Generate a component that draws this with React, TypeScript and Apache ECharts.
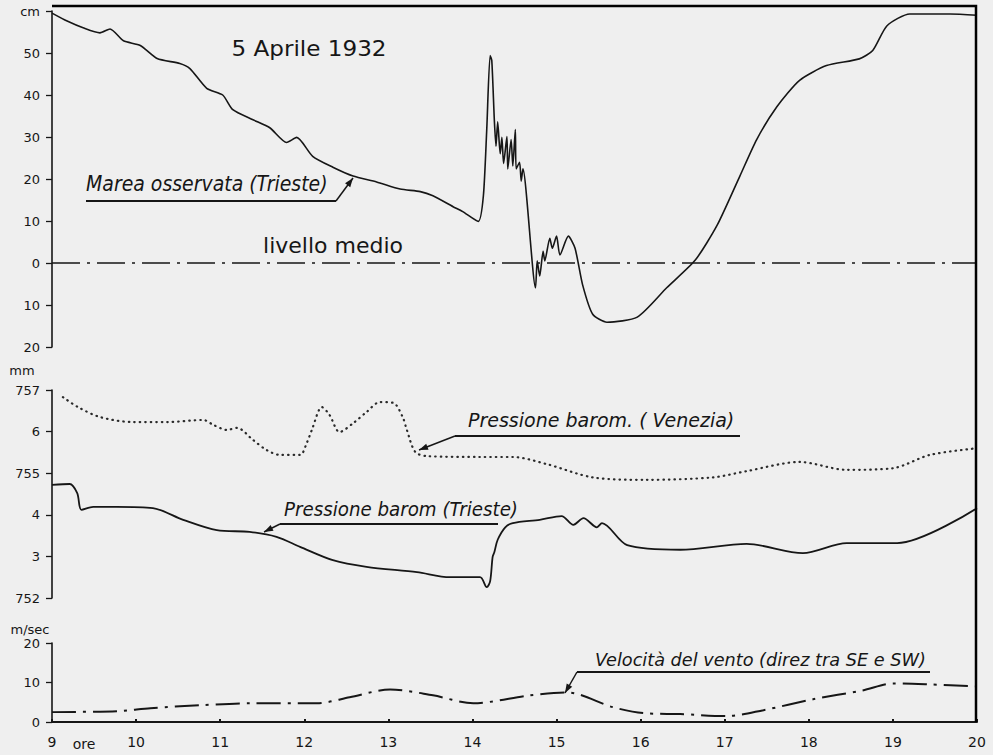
import React, { useEffect, useRef } from "react";
import * as echarts from "echarts";

// ---- data ----
const HOURS = [9, 10, 11, 12, 13, 14, 15, 16, 17, 18, 19, 20];

const TIDE_T = [9.0, 9.18, 9.37, 9.57, 9.69, 9.85, 10.05, 10.25, 10.52, 10.64, 10.84, 11.03, 11.15, 11.39, 11.59, 11.79, 11.91, 12.1, 12.34, 12.58, 12.86, 13.14, 13.38, 13.53, 13.77, 13.88, 14.07, 14.13, 14.17, 14.21, 14.23, 14.26, 14.28, 14.3, 14.33, 14.35, 14.37, 14.41, 14.42, 14.46, 14.48, 14.51, 14.52, 14.56, 14.58, 14.6, 14.75, 14.77, 14.8, 14.84, 14.86, 14.92, 14.95, 15.0, 15.04, 15.14, 15.22, 15.31, 15.43, 15.6, 15.96, 16.31, 16.65, 16.91, 17.18, 17.38, 17.62, 17.89, 18.21, 18.6, 18.76, 18.93, 19.2, 19.68, 20.0];
const TIDE_CM = [59.5, 57.6, 56.0, 54.8, 55.7, 52.9, 51.8, 48.7, 47.5, 46.3, 41.6, 40.0, 36.5, 34.1, 32.2, 28.7, 29.9, 25.4, 22.8, 20.7, 19.3, 17.6, 17.0, 16.0, 13.4, 12.3, 9.9, 16.0, 31.8, 49.4, 48.2, 34.1, 27.8, 33.6, 26.0, 29.9, 23.7, 30.1, 22.4, 29.4, 23.1, 31.8, 22.4, 24.0, 19.5, 22.4, -5.9, 0.5, -3.1, 2.8, 0.5, 5.9, 3.5, 6.4, 1.9, 6.4, 3.5, -5.2, -12.2, -14.1, -12.9, -5.9, 0.7, 9.0, 20.7, 29.4, 37.2, 43.5, 47.0, 48.6, 50.6, 56.5, 59.3, 59.3, 59.0];
const MEAN_LEVEL = [[9, 0], [20, 0]];

const VEN_T = [9.13, 9.3, 9.57, 9.96, 10.37, 10.8, 10.92, 11.08, 11.2, 11.39, 11.55, 11.71, 11.95, 12.03, 12.09, 12.21, 12.3, 12.42, 12.58, 12.74, 12.9, 13.06, 13.17, 13.22, 13.32, 13.46, 14.09, 14.48, 14.88, 15.43, 16.07, 16.86, 17.26, 17.89, 18.45, 19.0, 19.44, 20.0];
const VEN_MM = [756.83, 756.6, 756.35, 756.23, 756.23, 756.28, 756.16, 756.04, 756.09, 755.8, 755.56, 755.44, 755.44, 755.73, 756.04, 756.59, 756.4, 755.99, 756.2, 756.47, 756.71, 756.69, 756.35, 756.04, 755.51, 755.41, 755.39, 755.39, 755.22, 754.9, 754.84, 754.9, 755.05, 755.27, 755.08, 755.12, 755.44, 755.6];

const TRI_T = [9.0, 9.21, 9.3, 9.35, 9.49, 9.77, 10.2, 10.56, 10.96, 11.35, 11.67, 11.95, 12.34, 12.74, 13.34, 13.73, 14.09, 14.17, 14.21, 14.24, 14.26, 14.3, 14.39, 14.48, 14.8, 15.06, 15.2, 15.32, 15.48, 15.54, 15.84, 16.47, 17.26, 17.93, 18.45, 19.05, 20.0];
const TRI_MM = [754.72, 754.74, 754.52, 754.12, 754.19, 754.19, 754.16, 753.88, 753.63, 753.59, 753.47, 753.23, 752.91, 752.75, 752.62, 752.5, 752.5, 752.26, 752.4, 752.99, 753.1, 753.4, 753.7, 753.8, 753.88, 753.97, 753.76, 753.92, 753.7, 753.8, 753.27, 753.16, 753.3, 753.08, 753.32, 753.32, 754.16];

const WIND_T = [9.0, 9.77, 10.17, 10.76, 11.35, 12.15, 12.54, 13.02, 13.53, 14.01, 14.68, 15.12, 15.67, 16.03, 16.47, 17.03, 17.46, 18.05, 18.64, 19.0, 19.44, 20.0];
const WIND_MS = [2.5, 2.75, 3.5, 4.25, 4.75, 4.75, 6.25, 8.25, 6.75, 4.75, 6.75, 7.5, 3.75, 2.25, 2.0, 1.5, 3.0, 5.75, 8.0, 9.75, 9.5, 9.0];

const PRESS_LABELS: Record<number, string> = { 757: "757", 756: "6", 755: "755", 754: "4", 753: "3", 752: "752" };

const zip = (a: number[], b: number[]) => a.map((t, i) => [t, b[i]]);

const INK = "#161616";
const BG = "#efefef";

function arrow(x1: number, y1: number, x2: number, y2: number) {
  const dx = x2 - x1, dy = y2 - y1;
  const L = Math.hypot(dx, dy);
  const ux = dx / L, uy = dy / L;
  const px = -uy, py = ux;
  const bx = x2 - ux * 9, by = y2 - uy * 9;
  return [
    { type: "line", shape: { x1, y1, x2, y2 }, style: { stroke: INK, lineWidth: 1.5 } },
    {
      type: "polygon",
      shape: { points: [[x2, y2], [bx + px * 3.2, by + py * 3.2], [bx - px * 3.2, by - py * 3.2]] },
      style: { fill: INK },
    },
  ];
}

function txt(x: number, y: number, text: string, font: string, align = "left", scaleX = 1) {
  return {
    type: "text",
    x, y, scaleX,
    style: { text, font, fill: INK, textAlign: align, textVerticalAlign: "middle" },
  };
}

export default function App() {
  const ref = useRef<HTMLDivElement>(null);
  useEffect(() => {
    if (!ref.current) return;
    const chart = echarts.init(ref.current, null, { renderer: "svg" });
    const xBase = { type: "value", min: 9, max: 20, interval: 1, splitLine: { show: false } };
    const yLabel = { color: INK, fontSize: 13, fontFamily: "DejaVu Sans", margin: 12 };
    const yTick = { show: true, length: 6, lineStyle: { color: INK, width: 1.3 } };
    const yLine = { show: true, onZero: false, lineStyle: { color: INK, width: 1.6 } };
    const italic = "italic 19px 'DejaVu Sans'";
    chart.setOption({
      animation: false,
      backgroundColor: BG,
      grid: [
        { left: 52, top: 11, width: 925, height: 336 },
        { left: 52, top: 390, width: 925, height: 208 },
        { left: 52, top: 643, width: 925, height: 79 },
      ],
      xAxis: [
        { ...xBase, gridIndex: 0, show: false },
        { ...xBase, gridIndex: 1, show: false },
        {
          ...xBase, gridIndex: 2, position: "bottom",
          axisLine: { show: true, onZero: false, lineStyle: { color: INK, width: 2 } },
          axisTick: { show: true, inside: true, length: 3, lineStyle: { color: INK, width: 2 } },
          axisLabel: { color: INK, fontSize: 14, fontFamily: "DejaVu Sans", margin: 13, formatter: (v: number) => (HOURS.includes(v) ? String(v) : "") },
        },
      ],
      yAxis: [
        {
          type: "value", gridIndex: 0, min: -20, max: 60, interval: 10, splitLine: { show: false },
          axisLine: yLine, axisTick: yTick,
          axisLabel: { ...yLabel, formatter: (v: number) => (v === 60 ? "cm" : String(Math.abs(v))) },
        },
        {
          type: "value", gridIndex: 1, min: 752, max: 757, interval: 1, splitLine: { show: false },
          axisLine: yLine, axisTick: yTick,
          axisLabel: { ...yLabel, formatter: (v: number) => PRESS_LABELS[v] ?? "" },
        },
        {
          type: "value", gridIndex: 2, min: 0, max: 20, interval: 10, splitLine: { show: false },
          axisLine: yLine, axisTick: yTick,
          axisLabel: { ...yLabel },
        },
      ],
      series: [
        {
          name: "livello medio", type: "line", xAxisIndex: 0, yAxisIndex: 0,
          data: MEAN_LEVEL, showSymbol: false, silent: true,
          lineStyle: { color: INK, width: 1.6, type: [28, 7, 3, 7] },
        },
        {
          name: "Marea osservata (Trieste)", type: "line", xAxisIndex: 0, yAxisIndex: 0,
          data: zip(TIDE_T, TIDE_CM), showSymbol: false, smooth: 0.22,
          lineStyle: { color: INK, width: 1.6 },
        },
        {
          name: "Pressione barom. (Venezia)", type: "line", xAxisIndex: 1, yAxisIndex: 1,
          data: zip(VEN_T, VEN_MM), showSymbol: false, smooth: 0.3,
          lineStyle: { color: "#2a2a2a", width: 2.2, type: [0.5, 5], cap: "round" },
        },
        {
          name: "Pressione barom (Trieste)", type: "line", xAxisIndex: 1, yAxisIndex: 1,
          data: zip(TRI_T, TRI_MM), showSymbol: false, smooth: 0.3,
          lineStyle: { color: INK, width: 1.8 },
        },
        {
          name: "Velocità del vento", type: "line", xAxisIndex: 2, yAxisIndex: 2,
          data: zip(WIND_T, WIND_MS), showSymbol: false, smooth: 0.3,
          lineStyle: { color: INK, width: 2, type: [24, 7, 3, 7] },
        },
      ],
      graphic: [
        {
          type: "polyline", z: 1000,
          shape: { points: [[52, 6], [976, 6], [976, 722]] },
          style: { stroke: "#000", lineWidth: 2.5, fill: null },
        },
        txt(309, 48, "5 Aprile 1932", "22px 'DejaVu Sans'", "center", 1.05),
        txt(333, 245, "livello medio", "22px 'DejaVu Sans'", "center"),
        txt(86, 184, "Marea osservata (Trieste)", "italic 21px 'DejaVu Sans'", "left", 0.9),
        { type: "line", shape: { x1: 86, y1: 201, x2: 336, y2: 201 }, style: { stroke: INK, lineWidth: 1.8 } },
        ...arrow(336, 201, 353, 178),
        txt(468, 420, "Pressione barom. ( Venezia)", italic, "left", 1.0),
        { type: "line", shape: { x1: 455, y1: 436, x2: 740, y2: 436 }, style: { stroke: INK, lineWidth: 1.8 } },
        ...arrow(455, 436, 419, 450),
        txt(284, 509, "Pressione barom (Trieste)", italic, "left", 0.96),
        { type: "line", shape: { x1: 280, y1: 524, x2: 498, y2: 524 }, style: { stroke: INK, lineWidth: 1.8 } },
        ...arrow(280, 524, 264, 532),
        txt(595, 660, "Velocità del vento (direz tra SE e SW)", "italic 17px 'DejaVu Sans'", "left", 1.04),
        { type: "line", shape: { x1: 577, y1: 672, x2: 930, y2: 672 }, style: { stroke: INK, lineWidth: 1.8 } },
        ...arrow(577, 672, 565, 693),
        txt(22, 370, "mm", "13px 'DejaVu Sans'", "center"),
        txt(30, 629, "m/sec", "13px 'DejaVu Sans'", "center"),
        txt(84, 744, "ore", "14px 'DejaVu Sans'", "center"),
      ],
    });
    return () => chart.dispose();
  }, []);
  return <div ref={ref} style={{ position: "absolute", left: 0, top: 0, width: 993, height: 755 }} />;
}
